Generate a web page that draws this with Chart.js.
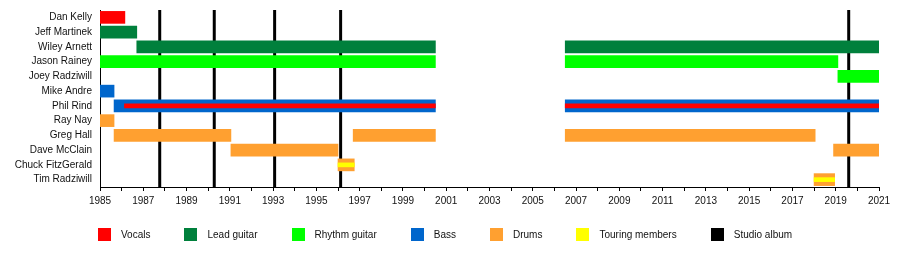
<!DOCTYPE html>
<html>
<head>
<meta charset="utf-8">
<script src="https://cdn.jsdelivr.net/npm/chart.js@4/dist/chart.umd.min.js"></script>
<style>
  body { margin: 0; background: #fff; font-family: "Liberation Sans", Arial, sans-serif; }
  #wrap { position: relative; width: 900px; height: 266px; }
  #legend { position: absolute; left: 98px; top: 228px; display: flex; font-size: 10px; color: #111; }
  .item { display: flex; align-items: center; margin-right: 34px; }
  .box { width: 13px; height: 13px; margin-right: 10px; }
</style>
</head>
<body>
<div id="wrap">
  <canvas id="timeline" width="900" height="266"></canvas>
  <div id="legend"></div>
</div>
<script>
// Band members, top to bottom
const members = ["Dan Kelly", "Jeff Martinek", "Wiley Arnett", "Jason Rainey", "Joey Radziwill",
  "Mike Andre", "Phil Rind", "Ray Nay", "Greg Hall", "Dave McClain", "Chuck FitzGerald", "Tim Radziwill"];

// spans: [member, start, end]
const vocals = [["Dan Kelly", 1985, 1986.15]];
const leadGuitar = [["Jeff Martinek", 1985, 1986.7], ["Wiley Arnett", 1986.7, 2000.5], ["Wiley Arnett", 2006.5, 2021]];
const rhythmGuitar = [["Jason Rainey", 1985, 2000.5], ["Jason Rainey", 2006.5, 2019.1], ["Joey Radziwill", 2019.1, 2021]];
const bass = [["Mike Andre", 1985, 1985.65], ["Phil Rind", 1985.65, 2000.5], ["Phil Rind", 2006.5, 2021]];
const drums = [["Ray Nay", 1985, 1985.65], ["Greg Hall", 1985.65, 1991.05], ["Greg Hall", 1996.7, 2000.5],
  ["Greg Hall", 2006.5, 2018.05], ["Dave McClain", 1991.05, 1996.0], ["Dave McClain", 2018.9, 2021],
  ["Chuck FitzGerald", 1996.0, 1996.75], ["Tim Radziwill", 2018.0, 2018.95]];
// secondary roles drawn as thin stripes
const vocalsStripe = [["Phil Rind", 1986.13, 2000.5], ["Phil Rind", 2006.5, 2021]];
const touringStripe = [["Chuck FitzGerald", 1996.0, 1996.75], ["Tim Radziwill", 2018.0, 2018.95]];

const studioAlbums = [1987.76, 1990.28, 1993.07, 1996.12, 2019.6];

const legendLabels = ["Vocals", "Lead guitar", "Rhythm guitar", "Bass", "Drums", "Touring members", "Studio album"];
const legendColors = ["#ff0000", "#00803c", "#00ff00", "#0066cc", "#ffa030", "#ffff00", "#000000"];

function spans(list) {
  return list.map(s => ({ y: s[0], x: [s[1], s[2]] }));
}

function barSet(list, color, thick, order) {
  return {
    data: spans(list),
    backgroundColor: color,
    barThickness: thick,
    borderWidth: 0,
    order: order
  };
}

// album lines go behind the bars
const albumLines = {
  id: "albumLines",
  beforeDatasetsDraw(chart) {
    const ctx = chart.ctx;
    const area = chart.chartArea;
    const x = chart.scales.x;
    ctx.save();
    ctx.strokeStyle = "#000";
    ctx.lineWidth = 3;
    studioAlbums.forEach(yr => {
      const px = x.getPixelForValue(yr);
      ctx.beginPath();
      ctx.moveTo(px, area.top);
      ctx.lineTo(px, area.bottom);
      ctx.stroke();
    });
    ctx.restore();
  }
};

Chart.defaults.font.family = "'Liberation Sans', Arial, sans-serif";
Chart.defaults.font.size = 10;
Chart.defaults.color = "#111";

new Chart(document.getElementById("timeline"), {
  type: "bar",
  data: {
    labels: members,
    datasets: [
      barSet(vocals, legendColors[0], 12, 1),
      barSet(leadGuitar, legendColors[1], 12, 1),
      barSet(rhythmGuitar, legendColors[2], 12, 1),
      barSet(bass, legendColors[3], 12, 1),
      barSet(drums, legendColors[4], 12, 1),
      barSet(vocalsStripe, legendColors[0], 4, 0),
      barSet(touringStripe, legendColors[5], 4, 0)
    ]
  },
  options: {
    indexAxis: "y",
    responsive: false,
    animation: false,
    grouped: false,
    layout: { padding: { top: 10, right: 21, left: 0, bottom: 0 } },
    plugins: { legend: { display: false }, tooltip: { enabled: false } },
    scales: {
      x: {
        type: "linear",
        min: 1985,
        max: 2021,
        afterFit(scale) { scale.height = 79; },
        border: { display: true, color: "#000", width: 1 },
        grid: { drawOnChartArea: false, drawTicks: true, tickLength: 4, color: "#000" },
        ticks: {
          stepSize: 1,
          autoSkip: false,
          maxRotation: 0,
          padding: 4,
          callback: v => (v % 2 === 1 ? String(v) : "")
        }
      },
      y: {
        type: "category",
        afterFit(scale) {
          scale.width = 100;
          scale.paddingTop = 0;
          scale.paddingBottom = 0;
        },
        border: { display: true, color: "#000", width: 1 },
        grid: { display: false, drawTicks: false },
        ticks: { padding: 8, autoSkip: false }
      }
    }
  },
  plugins: [albumLines]
});

// legend
const legend = document.getElementById("legend");
legendLabels.forEach((label, i) => {
  const item = document.createElement("div");
  item.className = "item";
  const box = document.createElement("div");
  box.className = "box";
  box.style.background = legendColors[i];
  const text = document.createElement("span");
  text.textContent = label;
  item.appendChild(box);
  item.appendChild(text);
  legend.appendChild(item);
});
</script>
</body>
</html>
